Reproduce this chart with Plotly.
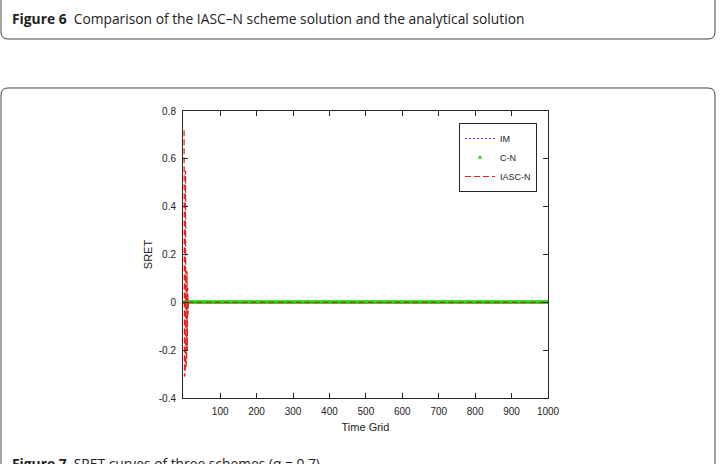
import plotly.graph_objects as go

# ---------------- data ----------------
time_grid = list(range(1, 1001))
iasc_head = [0.72, -0.31, 0.69, -0.30, 0.55, -0.27, 0.30, -0.24, 0.13, -0.20,
             0.06, -0.05, 0.01]
iasc_n = iasc_head + [0.0] * (len(time_grid) - len(iasc_head))
c_n = [0.0] * len(time_grid)
im = [0.0] * len(time_grid)

x_tick_vals = [100, 200, 300, 400, 500, 600, 700, 800, 900, 1000]
x_tick_text = ["100", "200", "300", "400", "500", "600", "700", "800", "900", "1000"]
y_tick_vals = [-0.4, -0.2, 0, 0.2, 0.4, 0.6, 0.8]
y_tick_text = ["-0.4", "-0.2", "0", "0.2", "0.4", "0.6", "0.8"]

# ---------------- layout geometry ----------------
W, H = 721, 464
L, R, T, B = 183, 548, 111, 398  # plot-area pixel box


def px(x):
    return (x - L) / (R - L)


def py(y):
    return (B - y) / (B - T)


def rounded_path(x0, x1, y_edge, r, y_far, bottom_edge):
    sgn = -1 if bottom_edge else 1
    pts = [("M", x0, y_far), ("L", x0, y_edge + sgn * r), ("Q", x0, y_edge, x0 + r, y_edge),
           ("L", x1 - r, y_edge), ("Q", x1, y_edge, x1, y_edge + sgn * r), ("L", x1, y_far)]
    s = []
    for p in pts:
        if p[0] == "Q":
            s.append(f"Q {px(p[1]):.5f},{py(p[2]):.5f} {px(p[3]):.5f},{py(p[4]):.5f}")
        else:
            s.append(f"{p[0]} {px(p[1]):.5f},{py(p[2]):.5f}")
    return " ".join(s)


AX = "#262626"
FONT = "Liberation Sans, Arial, sans-serif"
CAP_FONT = "Open Sans, Noto Sans, sans-serif"

fig = go.Figure()
fig.add_trace(go.Scatter(x=time_grid, y=im, name="IM", mode="lines",
                         line=dict(color="#4040ff", width=1, dash="2px,2px")))
fig.add_trace(go.Scatter(x=time_grid, y=c_n, name="C-N", mode="markers",
                         marker=dict(color="#22dd22", size=3.5)))
fig.add_trace(go.Scatter(x=time_grid, y=iasc_n, name="IASC-N", mode="lines",
                         line=dict(color="#ee1c1c", width=1.2, dash="6px,3px")))

axis_common = dict(showgrid=False, zeroline=False, showline=True, linecolor=AX, linewidth=1,
                   mirror="ticks", ticks="inside", ticklen=5, tickcolor=AX,
                   tickfont=dict(family=FONT, size=10, color="#222"))

fig.update_layout(
    width=W, height=H,
    margin=dict(l=L, r=W - R, t=T, b=H - B, pad=0),
    paper_bgcolor="white", plot_bgcolor="white",
    showlegend=True,
    legend=dict(x=px(537), y=py(123), xanchor="right", yanchor="top",
                bgcolor="white", bordercolor=AX, borderwidth=1,
                font=dict(family=FONT, size=9, color="#222"),
                tracegroupgap=0, itemwidth=30),
    xaxis=dict(range=[-2, 1000], tickvals=x_tick_vals, ticktext=x_tick_text,
               ticklabelstandoff=4,
               title=dict(text="Time Grid", font=dict(family=FONT, size=11, color="#222"), standoff=7),
               **axis_common),
    yaxis=dict(range=[-0.4, 0.8], tickvals=y_tick_vals, ticktext=y_tick_text,
               ticklabelstandoff=4,
               title=dict(text="SRET", font=dict(family=FONT, size=11, color="#222"), standoff=3),
               **axis_common),
    shapes=[
        dict(type="path", xref="paper", yref="paper",
             path=rounded_path(1, 715, 39, 7, -20, True), line=dict(color="#444", width=1)),
        dict(type="path", xref="paper", yref="paper",
             path=rounded_path(1, 715, 88, 7, 490, False), line=dict(color="#444", width=1)),
    ],
    annotations=[
        dict(xref="paper", yref="paper", x=px(10), y=py(19), xanchor="left", yanchor="middle",
             showarrow=False, font=dict(family=CAP_FONT, size=13.8, color="#222"),
             text="<b>Figure 6</b>  Comparison of the IASC–N scheme solution and the analytical solution"),
        dict(xref="paper", yref="paper", x=px(10), y=py(464), xanchor="left", yanchor="middle",
             showarrow=False, font=dict(family=CAP_FONT, size=13.8, color="#222"),
             text="<b>Figure 7</b>  SRET curves of three schemes (α = 0.7)"),
    ],
)

fig.write_html("out.html")
